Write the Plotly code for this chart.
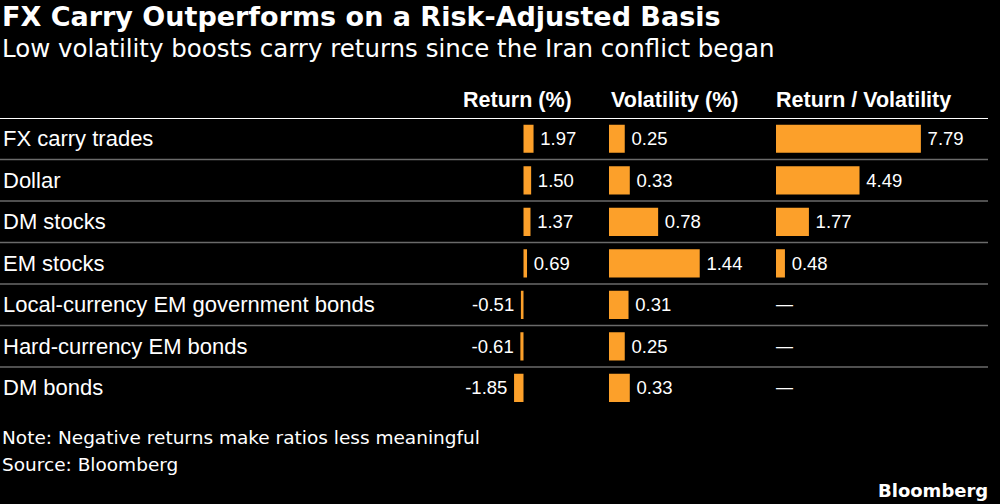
import plotly.graph_objects as go

# ---- data ----
categories = [
    "FX carry trades",
    "Dollar",
    "DM stocks",
    "EM stocks",
    "Local-currency EM government bonds",
    "Hard-currency EM bonds",
    "DM bonds",
]
returns = [1.97, 1.50, 1.37, 0.69, -0.51, -0.61, -1.85]
volatility = [0.25, 0.33, 0.78, 1.44, 0.31, 0.25, 0.33]
ratio = [7.79, 4.49, 1.77, 0.48, None, None, None]
headers = ["Return (%)", "Volatility (%)", "Return / Volatility"]
missing_label = "\u2014"

title = "FX Carry Outperforms on a Risk-Adjusted Basis"
subtitle = "Low volatility boosts carry returns since the Iran conflict began"
note = "Note: Negative returns make ratios less meaningful"
source = "Source: Bloomberg"
brand = "Bloomberg"

# ---- style ----
W, H = 1000, 504
BG = "#000000"
ORANGE = "#FCA02A"
SEP = "#6a6a6a"
SANS = "Liberation Sans, Arial, sans-serif"
HUMAN = "DejaVu Sans, Verdana, sans-serif"
THIN = "\u2009"


def px_x(p):
    return p / W


def px_y(p):
    return 1 - p / H


fig = go.Figure()

fmt = lambda v: "" if v is None else f"{v:.2f}"
label_font = dict(family=SANS, size=18.5, color="white")

fig.add_trace(go.Bar(
    y=categories, x=returns, orientation="h", xaxis="x", yaxis="y",
    marker=dict(color=ORANGE, line=dict(width=0)), width=0.68,
    text=[(THIN + fmt(v)) if v >= 0 else (fmt(v) + THIN) for v in returns],
    textposition="outside", cliponaxis=False, constraintext="none",
    textfont=label_font, hoverinfo="skip", showlegend=False,
))
fig.add_trace(go.Bar(
    y=categories, x=volatility, orientation="h", xaxis="x2", yaxis="y",
    marker=dict(color=ORANGE, line=dict(width=0)), width=0.68,
    text=[THIN + fmt(v) for v in volatility],
    textposition="outside", cliponaxis=False, constraintext="none",
    textfont=label_font, hoverinfo="skip", showlegend=False,
))
fig.add_trace(go.Bar(
    y=categories, x=ratio, orientation="h", xaxis="x3", yaxis="y",
    marker=dict(color=ORANGE, line=dict(width=0)), width=0.68,
    text=[(THIN + fmt(v)) if v is not None else "" for v in ratio],
    textposition="outside", cliponaxis=False, constraintext="none",
    textfont=label_font, hoverinfo="skip", showlegend=False,
))

# scales (px per unit) and zero positions
ret_zero, ret_scale, ret_dom = 523.5, 5.1, (440, 600)
vol_zero, vol_scale, vol_dom = 609, 63.0, (609, 760)
rat_zero, rat_scale, rat_dom = 776, 18.6, (776, 990)


def rng(zero, scale, dom):
    return [(dom[0] - zero) / scale, (dom[1] - zero) / scale]


top_px, bottom_px = 118, 408.6
hidden = dict(visible=False, fixedrange=True)
fig.update_layout(
    width=W, height=H,
    margin=dict(l=0, r=0, t=0, b=0),
    paper_bgcolor=BG, plot_bgcolor=BG,
    xaxis=dict(domain=[px_x(ret_dom[0]), px_x(ret_dom[1])], range=rng(ret_zero, ret_scale, ret_dom), anchor="y", **hidden),
    xaxis2=dict(domain=[px_x(vol_dom[0]), px_x(vol_dom[1])], range=rng(vol_zero, vol_scale, vol_dom), anchor="y", **hidden),
    xaxis3=dict(domain=[px_x(rat_dom[0]), px_x(rat_dom[1])], range=rng(rat_zero, rat_scale, rat_dom), anchor="y", **hidden),
    yaxis=dict(domain=[px_y(bottom_px), px_y(top_px)], range=[len(categories) - 0.5, -0.5],
               type="category", categoryorder="array", categoryarray=categories, **hidden),
    showlegend=False,
)

shapes = []
# header rule
shapes.append(dict(type="line", xref="paper", yref="y", x0=0, x1=px_x(988), y0=-0.5, y1=-0.5,
                   line=dict(color="white", width=2)))
for k in range(len(categories) - 1):
    shapes.append(dict(type="line", xref="paper", yref="y", x0=0, x1=px_x(988), y0=k + 0.5, y1=k + 0.5,
                       line=dict(color=SEP, width=1.5)))
fig.update_layout(shapes=shapes)

ann = []
# row labels
for c in categories:
    ann.append(dict(x=px_x(1), xref="paper", y=c, yref="y", text=c, showarrow=False,
                    xanchor="left", yanchor="middle", font=dict(family=SANS, size=22, color="white")))
# missing ratio dashes
for c, v in zip(categories, ratio):
    if v is None:
        ann.append(dict(x=0, xref="x3", y=c, yref="y", text=missing_label, showarrow=False,
                        xanchor="left", yanchor="middle", xshift=-2, font=dict(family=SANS, size=17, color="white")))
# headers
hy = px_y(100)
hfont = dict(family=SANS, size=21.5, color="white")
ann.append(dict(x=px_x(574), xref="paper", y=hy, yref="paper", text="<b>" + headers[0] + "</b>", showarrow=False,
                xanchor="right", yanchor="middle", font=hfont))
ann.append(dict(x=px_x(609), xref="paper", y=hy, yref="paper", text="<b>" + headers[1] + "</b>", showarrow=False,
                xanchor="left", yanchor="middle", font=hfont))
ann.append(dict(x=px_x(774), xref="paper", y=hy, yref="paper", text="<b>" + headers[2] + "</b>", showarrow=False,
                xanchor="left", yanchor="middle", font=hfont))
# title / subtitle
ann.append(dict(x=0, xref="paper", y=px_y(17), yref="paper", text="<b>" + title + "</b>", showarrow=False,
                xanchor="left", yanchor="middle", font=dict(family=HUMAN, size=27, color="white")))
ann.append(dict(x=0, xref="paper", y=px_y(48), yref="paper", text=subtitle, showarrow=False,
                xanchor="left", yanchor="middle", font=dict(family=HUMAN, size=24.5, color="white")))
# footnotes
ann.append(dict(x=0, xref="paper", y=px_y(437), yref="paper", text=note, showarrow=False,
                xanchor="left", yanchor="middle", font=dict(family=HUMAN, size=18.5, color="white")))
ann.append(dict(x=0, xref="paper", y=px_y(464), yref="paper", text=source, showarrow=False,
                xanchor="left", yanchor="middle", font=dict(family=HUMAN, size=18.5, color="white")))
ann.append(dict(x=px_x(990), xref="paper", y=px_y(490), yref="paper", text="<b>" + brand + "</b>", showarrow=False,
                xanchor="right", yanchor="middle", font=dict(family=HUMAN, size=18, color="white")))
fig.update_layout(annotations=ann)

fig.write_html(
    "out.html",
    config={"displayModeBar": False, "staticPlot": True},
    post_script="document.body.style.margin='0';document.body.style.overflow='hidden';document.body.style.background='#000';",
)
